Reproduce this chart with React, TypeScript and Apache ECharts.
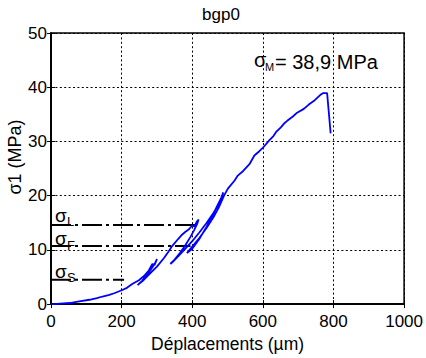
import React, { useEffect, useRef } from "react";
import * as echarts from "echarts";

const FONT = "'Liberation Sans', Arial, Helvetica, sans-serif";

const titleText = "bgp0";
const xName = "Déplacements (µm)";
const yName = "σ1 (MPa)";
const peakLabel = "= 38,9 MPa";

// displacement (µm) and stress (MPa) along the test, in time order
const disp = [
  0, 10, 25, 53, 80, 109, 130, 146, 165, 179, 202, 215, 230, 249, 265, 277, 287, 293, 300,
  295, 282, 270, 258, 245,
  260, 280, 300, 320, 333, 343, 360, 371, 380, 389, 400, 406, 413, 418,
  414, 405, 395, 380, 365, 350, 338,
  345, 360, 380, 400, 420, 440, 460, 475, 488,
  482, 470, 455, 440, 420, 400, 385,
  400, 420, 440, 460, 475, 490, 501, 520, 529, 545, 562, 576, 590, 599, 618, 630, 637, 651,
  660, 669, 685, 697, 716, 730, 745, 753, 763, 770, 782, 792,
];
const stress = [
  0, 0, 0.1, 0.2, 0.5, 0.8, 1.1, 1.4, 1.7, 2.0, 2.6, 3.0, 3.7, 4.4, 5.3, 6.2, 7.4, 7.2, 8.3,
  7.6, 6.3, 5.3, 4.3, 3.5,
  4.3, 5.6, 6.9, 8.5, 9.7, 10.7, 12.0, 12.8, 13.3, 13.7, 14.5, 14.3, 15.2, 15.6,
  14.8, 13.6, 12.4, 10.8, 9.4, 8.2, 7.4,
  7.8, 8.8, 10.2, 11.6, 13.2, 14.9, 16.8, 18.4, 20.6,
  19.6, 18.0, 16.0, 14.2, 12.0, 10.2, 9.4,
  10.6, 12.2, 14.0, 16.0, 17.8, 20.0, 21.3, 22.8, 23.7, 24.6, 25.8, 27.4, 28.2, 28.75, 30.2, 31.0, 31.7, 32.6,
  33.3, 33.8, 34.6, 35.3, 36.0, 36.8, 37.5, 38.0, 38.6, 38.9, 38.9, 31.5,
];

// reference stress levels (dash-dot lines)
const refLevels = [14.6, 10.7, 4.5];
const refEnds = [409, 395, 207];
const refSubs = ["L", "F", "S"];

export default function App() {
  const ref = useRef<HTMLDivElement>(null);
  useEffect(() => {
    if (!ref.current) return;
    const chart = echarts.init(ref.current, null, { renderer: "svg" });
    const curve = disp.map((d, i) => [d, stress[i]]);
    const gridLine = { show: true, lineStyle: { color: "#000", width: 1, type: [2, 2.4] as any } };
    const axisCommon = {
      type: "value" as const,
      axisLine: { show: true, lineStyle: { color: "#000", width: 1.5 } },
      axisTick: { show: true, inside: true, length: 4, lineStyle: { color: "#000" } },
    };
    const refSeries = refLevels.map((lv, i) => ({
      type: "line",
      data: [[0, lv], [refEnds[i], lv]],
      symbol: "none",
      lineStyle: { color: "#000", width: 2, type: [20, 4, 3, 4] },
      z: 3,
      silent: true,
    }));
    const sigmaLabels: any[] = [];
    const sigY = [215, 238, 271];
    const subY = [221, 245, 277];
    refSubs.forEach((s, i) => {
      sigmaLabels.push({
        type: "text", x: 55, y: sigY[i],
        style: { text: "σ", font: `19px ${FONT}`, fill: "#000", align: "left", verticalAlign: "middle" },
      });
      sigmaLabels.push({
        type: "text", x: 67, y: subY[i],
        style: { text: s, font: `13px ${FONT}`, fill: "#000", align: "left", verticalAlign: "middle" },
      });
    });
    chart.setOption({
      animation: false,
      backgroundColor: "#fff",
      grid: { left: 51, right: 18, top: 33, bottom: 47, show: true, borderColor: "#000", borderWidth: 1.5 },
      xAxis: [
        {
          ...axisCommon,
          min: 0, max: 1000, interval: 200,
          axisLabel: { color: "#000", fontSize: 17, fontFamily: FONT, margin: 9, formatter: (v: number) => String(v) },
          splitLine: gridLine,
          name: xName, nameLocation: "middle", nameGap: 26,
          nameTextStyle: { color: "#000", fontSize: 17.5, fontFamily: FONT },
        },
        {
          ...axisCommon, position: "top",
          min: 0, max: 1000, interval: 200,
          axisLabel: { show: false }, splitLine: { show: false },
        },
      ],
      yAxis: [
        {
          ...axisCommon,
          min: 0, max: 50, interval: 10,
          axisLabel: { color: "#000", fontSize: 17, fontFamily: FONT, margin: 4, formatter: (v: number) => String(v) },
          splitLine: gridLine,
        },
        {
          ...axisCommon, position: "right",
          min: 0, max: 50, interval: 10,
          axisLabel: { show: false }, splitLine: { show: false },
        },
      ],
      series: [
        ...refSeries,
        {
          type: "line",
          data: curve,
          symbol: "none",
          lineStyle: { color: "#0000ff", width: 1.8 },
          z: 4,
        },
      ],
      graphic: [
        {
          type: "text", x: 221, y: 14,
          style: { text: titleText, font: `17px ${FONT}`, fill: "#000", align: "center", verticalAlign: "middle" },
        },
        {
          type: "text", x: 15, y: 157, rotation: Math.PI / 2,
          style: { text: yName, font: `18px ${FONT}`, fill: "#000", align: "center", verticalAlign: "middle" },
        },
        {
          type: "text", x: 254, y: 60,
          style: { text: "σ", font: `20px ${FONT}`, fill: "#000", align: "left", verticalAlign: "middle" },
        },
        {
          type: "text", x: 265, y: 67,
          style: { text: "M", font: `11px ${FONT}`, fill: "#000", align: "left", verticalAlign: "middle" },
        },
        {
          type: "text", x: 275, y: 62,
          style: { text: peakLabel, font: `20px ${FONT}`, fill: "#000", align: "left", verticalAlign: "middle" },
        },
        ...sigmaLabels,
      ],
    });
    return () => chart.dispose();
  }, []);
  return (
    <div
      ref={ref}
      style={{ position: "fixed", left: 0, top: 0, width: 426, height: 358, background: "#fff" }}
    />
  );
}
